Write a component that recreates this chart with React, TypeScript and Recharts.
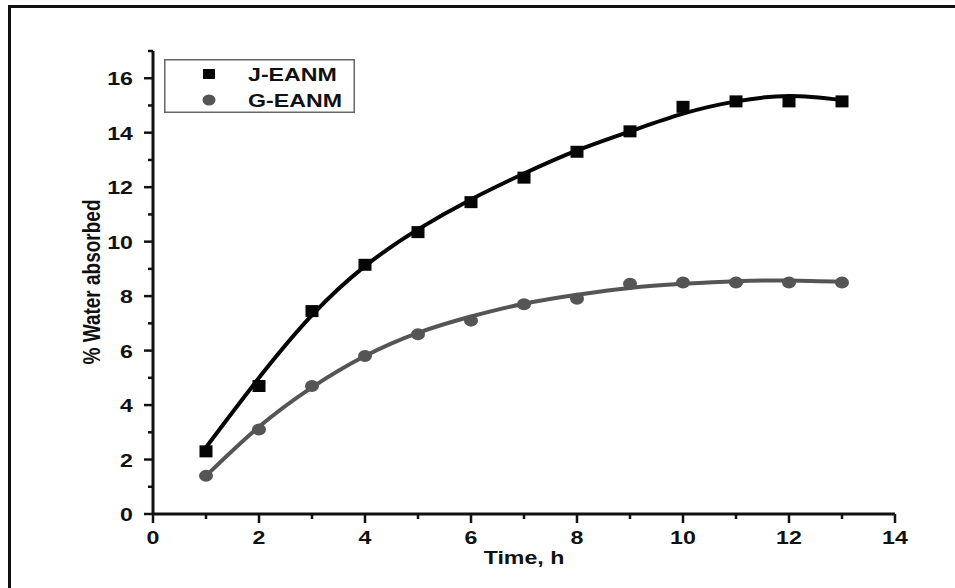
import React from 'react'
import { ComposedChart, Line, XAxis, YAxis } from 'recharts'

// Water uptake over time for the two composites
const hours = [1, 2, 3, 4, 5, 6, 7, 8, 9, 10, 11, 12, 13]
const jEanmMeasured = [2.3, 4.7, 7.45, 9.15, 10.35, 11.45, 12.35, 13.3, 14.05, 14.95, 15.15, 15.15, 15.15]
const gEanmMeasured = [1.4, 3.1, 4.7, 5.8, 6.6, 7.1, 7.7, 7.9, 8.45, 8.5, 8.5, 8.5, 8.5]
// fitted trend curves
const jEanmFit = [2.45, 5.0, 7.3, 9.1, 10.45, 11.55, 12.5, 13.35, 14.05, 14.7, 15.15, 15.35, 15.2]
const gEanmFit = [1.4, 3.2, 4.65, 5.8, 6.65, 7.25, 7.72, 8.05, 8.3, 8.45, 8.55, 8.57, 8.52]

const xTicks = [0, 1, 2, 3, 4, 5, 6, 7, 8, 9, 10, 11, 12, 13, 14]
const yTicks = [0, 1, 2, 3, 4, 5, 6, 7, 8, 9, 10, 11, 12, 13, 14, 15, 16, 17]

const chartData = hours.map((t, i) => ({
  t,
  jObs: jEanmMeasured[i],
  gObs: gEanmMeasured[i],
  jFit: jEanmFit[i],
  gFit: gEanmFit[i],
}))

const INK = '#111'
const J_COLOR = '#050505'
const G_COLOR = '#555555'
const FONT = '"Liberation Sans", Arial, sans-serif'
const STRETCH = 1.22

const XTick = ({ x, y, payload }: any) => {
  const major = payload.value % 2 === 0
  return (
    <g>
      <line x1={x} x2={x} y1={y} y2={y + (major ? 9 : 5)} stroke={INK} strokeWidth={2.5} />
      {major && (
        <text
          transform={`translate(${x},${y + 30}) scale(${STRETCH},1)`}
          textAnchor="middle"
          fontFamily={FONT}
          fontWeight="bold"
          fontSize={19}
          fill={INK}
        >
          {payload.value}
        </text>
      )}
    </g>
  )
}

const YTick = ({ x, y, payload }: any) => {
  const major = payload.value % 2 === 0 && payload.value <= 16
  return (
    <g>
      <line x1={x} x2={x - (major ? 9 : 5)} y1={y} y2={y} stroke={INK} strokeWidth={2.5} />
      {major && (
        <text
          transform={`translate(${x - 20},${y + 7}) scale(${STRETCH},1)`}
          textAnchor="end"
          fontFamily={FONT}
          fontWeight="bold"
          fontSize={19}
          fill={INK}
        >
          {payload.value}
        </text>
      )}
    </g>
  )
}

const SquareDot = ({ cx, cy }: any) =>
  cx == null || cy == null ? null : <rect x={cx - 6.5} y={cy - 6} width={13} height={12} fill={J_COLOR} />

const RoundDot = ({ cx, cy }: any) =>
  cx == null || cy == null ? null : <ellipse cx={cx} cy={cy} rx={7} ry={6} fill={G_COLOR} />

const legendRows = [
  { label: 'J-EANM', y: 22 },
  { label: 'G-EANM', y: 48 },
]

const LegendBox = () => (
  <svg width={191} height={54} style={{ position: 'absolute', left: 164, top: 59 }}>
    <rect x={0.75} y={0.75} width={189.5} height={52.5} fill="#fff" stroke="#666" strokeWidth={1.5} />
    <rect x={39} y={10} width={12} height={10} fill={J_COLOR} />
    <ellipse cx={45} cy={41} rx={6.5} ry={5.5} fill={G_COLOR} />
    {legendRows.map((row) => (
      <text
        key={row.label}
        transform={`translate(84,${row.y}) scale(${STRETCH},1)`}
        fontFamily={FONT}
        fontWeight="bold"
        fontSize={19}
        fill={INK}
      >
        {row.label}
      </text>
    ))}
  </svg>
)

export default function App() {
  return (
    <div
      style={{
        position: 'absolute',
        left: 0,
        top: 0,
        width: 955,
        height: 588,
        overflow: 'hidden',
        background: '#fff',
      }}
    >
      {/* frame lines along the top and left edge */}
      <div
        style={{
          position: 'absolute',
          left: 8,
          top: 5,
          width: 1000,
          height: 1000,
          borderTop: '3px solid #111',
          borderLeft: '3px solid #111',
        }}
      />
      <ComposedChart
        width={955}
        height={588}
        data={chartData}
        margin={{ top: 51, right: 60, bottom: 34, left: 93 }}
      >
        <XAxis
          type="number"
          dataKey="t"
          domain={[0, 14]}
          ticks={xTicks}
          interval={0}
          height={40}
          tickSize={0}
          tickMargin={0}
          tickLine={false}
          tick={<XTick />}
          axisLine={{ stroke: INK, strokeWidth: 3 }}
          label={{
            content: () => (
              <text
                transform={`translate(524,564) scale(${STRETCH},1)`}
                textAnchor="middle"
                fontFamily={FONT}
                fontWeight="bold"
                fontSize={19}
                fill={INK}
              >
                Time, h
              </text>
            ),
          }}
        />
        <YAxis
          type="number"
          domain={[0, 17]}
          ticks={yTicks}
          interval={0}
          width={60}
          tickSize={0}
          tickMargin={0}
          tickLine={false}
          tick={<YTick />}
          axisLine={{ stroke: INK, strokeWidth: 3 }}
          label={{
            content: () => (
              <text
                transform={`translate(92,282) scale(${STRETCH},1) rotate(-90)`}
                textAnchor="middle"
                dominantBaseline="central"
                fontFamily={FONT}
                fontWeight="bold"
                fontSize={19}
                fill={INK}
              >
                % Water absorbed
              </text>
            ),
          }}
        />
        <Line
          type="natural"
          dataKey="jFit"
          stroke={J_COLOR}
          strokeWidth={4}
          dot={false}
          activeDot={false}
          isAnimationActive={false}
        />
        <Line
          type="natural"
          dataKey="gFit"
          stroke={G_COLOR}
          strokeWidth={4}
          dot={false}
          activeDot={false}
          isAnimationActive={false}
        />
        <Line
          dataKey="jObs"
          name="J-EANM"
          stroke="none"
          dot={<SquareDot />}
          activeDot={false}
          isAnimationActive={false}
        />
        <Line
          dataKey="gObs"
          name="G-EANM"
          stroke="none"
          dot={<RoundDot />}
          activeDot={false}
          isAnimationActive={false}
        />
      </ComposedChart>
      <LegendBox />
    </div>
  )
}
